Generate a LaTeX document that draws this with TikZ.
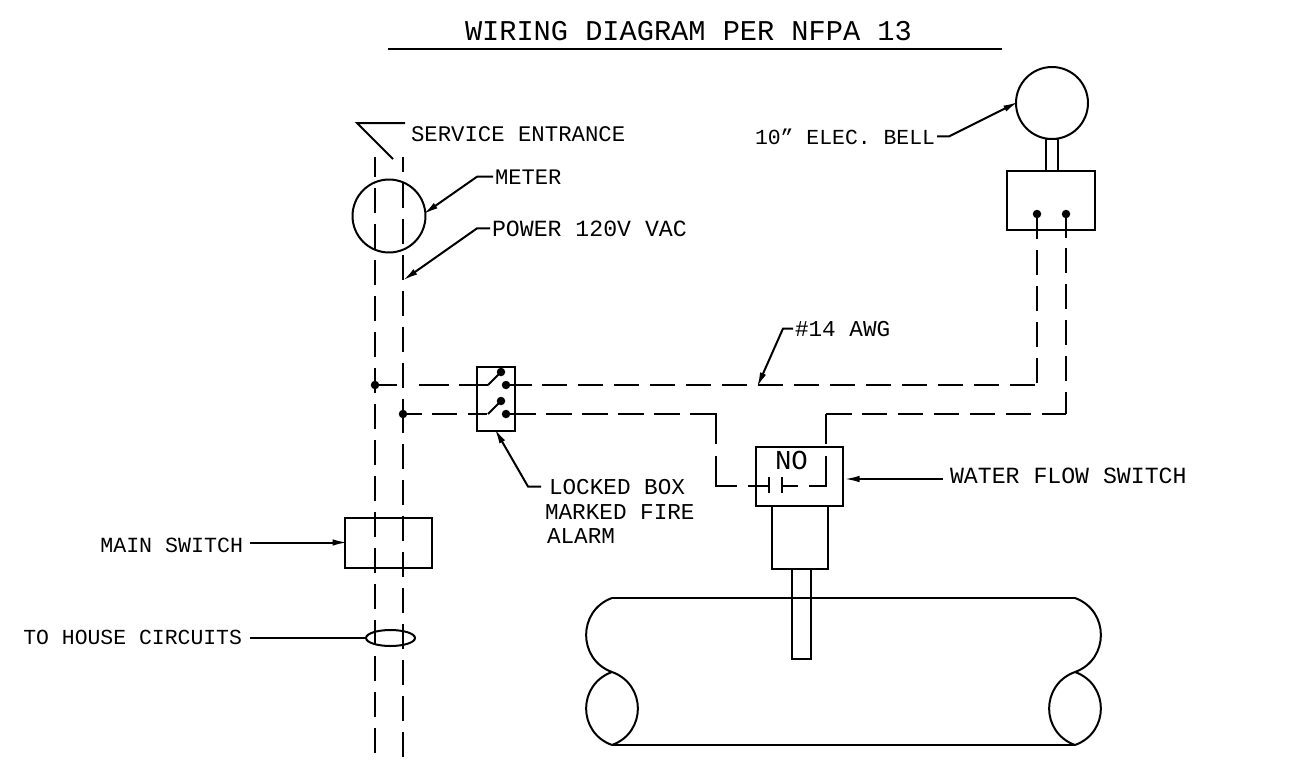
\documentclass[tikz,border=0pt]{standalone}
\usepackage{fontspec}
\setmainfont{Liberation Mono}
\usetikzlibrary{arrows.meta,shapes.geometric}
\tikzset{
    every node/.style={inner sep=0pt,outer sep=0pt},
    lbl/.style={font=\fontsize{#1}{15pt}\selectfont,anchor=base west},
    lbl/.default=12.9pt,
    bigl/.style={font=\fontsize{16.3pt}{19pt}\selectfont,anchor=base west},
    part/.style={draw,rectangle},
    wiredot/.style={circle,fill,minimum size=.17cm},
    wire/.style={dash pattern=on .51cm off .21cm},
    leader/.style={-{Latex[length=.3cm,width=.13cm]},shorten <=.04cm,shorten >=-.05cm},
}
\begin{document}
\begin{tikzpicture}[x=.02cm,y=-.02cm,line width=.04cm]
    \useasboundingbox (0,0) rectangle (1308,761);
    % heading
    \node[bigl] (heading) at (465,40) {WIRING DIAGRAM PER NFPA 13};
    \coordinate (headl) at (388,49);
    \coordinate (headr) at (1002,49);
    \draw (headl) -- (headr);
    % service side
    \coordinate (drop) at (393,159);
    \coordinate (dropa) at (357,123);
    \coordinate (dropb) at (405,123);
    \draw (dropb) -- (dropa) -- (drop);
    \node[lbl=12.7pt] (servicelabel) at (411,141) {SERVICE ENTRANCE};
    \node[draw,circle,minimum size=1.46cm] (meter) at (389,216) {};
    \node[lbl=12.6pt] (meterlabel) at (495,184) {METER};
    \draw[leader] (meterlabel.west) -- ++(-18,0) -- (meter.5);
    \node[lbl=13.2pt] (powerlabel) at (492,236) {POWER 120V VAC};
    \coordinate (powertip) at (405,279);
    \draw[leader] (powerlabel.west) -- ++(-15,0) -- (powertip);
    \node[part,minimum width=1.74cm,minimum height=1cm] (mainswitch) at (388.5,542.5) {};
    \node[lbl=12.3pt,anchor=base east] (mainlabel) at (243,552) {MAIN SWITCH};
    \coordinate (maintail) at (248,542.5);
    \draw[leader] (maintail) -- (mainswitch.west);
    \node[draw,ellipse,minimum width=.98cm,minimum height=.32cm] (bundle) at (390.5,638) {};
    \node[lbl=12.2pt,anchor=base east] (houselabel) at (242,644) {TO HOUSE CIRCUITS};
    \coordinate (housetail) at (250,638);
    \draw (housetail) -- (bundle.west);
    % feed lines
    \node[wiredot] (feeda) at (375,385) {};
    \node[wiredot] (feedb) at (403,414) {};
    \coordinate (lefttop) at (375,157);
    \coordinate (leftend) at (375,754);
    \coordinate (righttop) at (403,157);
    \coordinate (rightend) at (403,757);
    \draw[dash pattern=on .5cm off .22cm,dash phase=.1cm] (lefttop) -- (leftend);
    \draw[dash pattern=on .5cm off .22cm,dash phase=.2cm] (righttop) -- (feedb.center);
    \draw[dash pattern=on .5cm off .22cm,dash phase=.12cm] (feedb.center) -- (rightend);
    % locked box
    \node[part,minimum width=.76cm,minimum height=1.28cm] (lockbox) at (496,399) {};
    \node[wiredot] (conta) at (501,372) {};
    \node[wiredot] (contb) at (506,385) {};
    \node[wiredot] (contc) at (501,401) {};
    \node[wiredot] (contd) at (506,414) {};
    \coordinate (hingea) at (488,385);
    \coordinate (hingeb) at (488,414);
    \draw (hingea) -- (conta.center);
    \draw (hingeb) -- (contc.center);
    \draw[dash pattern=on .44cm off .44cm on .6cm off .2cm on .6cm] (feeda.center) -- (hingea);
    \draw[dash pattern=on .38cm off .2cm on .5cm off .22cm on .38cm] (feedb.center) -- (hingeb);
    \node[lbl] (locklabel) at (549,494) {LOCKED BOX};
    \node[lbl] (marklabel) at (545,519) {MARKED FIRE};
    \node[lbl] (alarmlabel) at (547,543) {ALARM};
    \draw[leader,shorten <=.16cm] (locklabel.west) -- ++(-21,0) -- (lockbox.south);
    % bell
    \node[draw,circle,minimum size=1.44cm] (bell) at (1052,103) {};
    \node[part,minimum width=.24cm,minimum height=.64cm] (neck) at (1052,155) {};
    \node[part,minimum width=1.76cm,minimum height=1.18cm] (bellbox) at (1051,200.5) {};
    \node[wiredot] (bella) at (1037,214) {};
    \node[wiredot] (bellb) at (1066,214) {};
    \node[lbl=12.2pt] (belllabel) at (755,144) {10" ELEC. BELL};
    \draw[leader] (belllabel.east) -- ++(14,0) -- (bell.180);
    % run to the bell
    \coordinate (cornera) at (1037,385);
    \coordinate (cornerb) at (1066,414);
    \coordinate (cornerc) at (716,414);
    \coordinate (cornerd) at (712,414);
    \draw[wire] (contb.center) -- (cornera);
    \draw[wire] (bella.center) -- (cornera);
    \draw[wire] (contd.east) -- (cornerc);
    \draw[wire,dash phase=.04cm] (bellb.center) -- (cornerb);
    \node[lbl] (awglabel) at (795,336) {\#14 AWG};
    \coordinate (awgtip) at (758,385);
    \draw[leader] (awglabel.west) -- ++(-12,0) -- (awgtip);
    % flow switch
    \node[part,minimum width=1.74cm,minimum height=1.18cm] (flowbox) at (799.5,476.5) {};
    \node[bigl,font=\fontsize{15.6pt}{18pt}\selectfont] (nolabel) at (775,469) {NO};
    \node[part,minimum width=1.12cm,minimum height=1.26cm] (flowbody) at (800,537.5) {};
    \node[part,minimum width=.38cm,minimum height=1.8cm] (stem) at (801.5,614) {};
    \coordinate (platea) at (769,486);
    \coordinate (plateb) at (782,486);
    \coordinate (plateat) at (769,477);
    \coordinate (plateab) at (769,493);
    \coordinate (platebt) at (782,477);
    \coordinate (platebb) at (782,493);
    \draw (plateat) -- (plateab);
    \draw (platebt) -- (platebb);
    \coordinate (inleft) at (716,486);
    \coordinate (inright) at (826,486);
    \coordinate (outcorner) at (826,414);
    \draw[dash pattern=on .68cm off .24cm on 1.02cm off .22cm on .42cm] (cornerd) -- (cornerc) -- (inleft) -- (platea);
    \draw[dash pattern=on .32cm off .22cm on .94cm off .24cm on .6cm] (plateb) -- (inright) -- (outcorner);
    \draw[wire] (outcorner) -- (cornerb);
    \node[lbl=13.2pt] (flowlabel) at (950,483) {WATER FLOW SWITCH};
    \coordinate (flowtail) at (945,479);
    \coordinate (flowtip) at (847,479);
    \draw[leader] (flowtail) -- (flowtip);
    % pipe
    \coordinate (pipea) at (612,598);
    \coordinate (pipeb) at (612,672);
    \coordinate (pipec) at (612,745);
    \coordinate (piped) at (1075,598);
    \coordinate (pipee) at (1075,672);
    \coordinate (pipef) at (1075,745);
    \draw (pipea) -- (piped);
    \draw (pipec) -- (pipef);
    \draw (pipea) .. controls (577.5,610.5) and (577.5,659.5) .. (pipeb);
    \draw (pipeb) .. controls (577.5,684.5) and (577.5,732.5) .. (pipec);
    \draw (pipeb) .. controls (646.5,684.5) and (646.5,732.5) .. (pipec);
    \draw (piped) .. controls (1109.5,610.5) and (1109.5,659.5) .. (pipee);
    \draw (pipee) .. controls (1109.5,684.5) and (1109.5,732.5) .. (pipef);
    \draw (pipee) .. controls (1040.5,684.5) and (1040.5,732.5) .. (pipef);
\end{tikzpicture}
\end{document}
